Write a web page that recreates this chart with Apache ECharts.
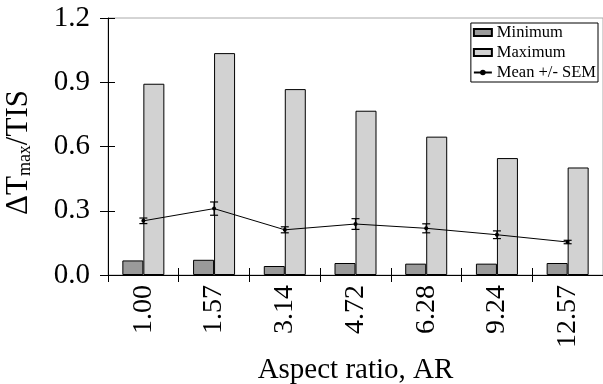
<!DOCTYPE html>
<html>
<head>
<meta charset="utf-8">
<script src="https://cdn.jsdelivr.net/npm/echarts@6/dist/echarts.min.js"></script>
<style>
html,body{margin:0;padding:0;background:#fff;}
#chart{width:603px;height:384px;}
</style>
</head>
<body>
<div id="chart"></div>
<script>
var categories = ['1.00', '1.57', '3.14', '4.72', '6.28', '9.24', '12.57'];
var minimum = [0.068, 0.071, 0.042, 0.056, 0.053, 0.053, 0.056];
var maximum = [0.893, 1.036, 0.868, 0.767, 0.646, 0.546, 0.502];
var meanVals = [0.253, 0.310, 0.211, 0.238, 0.218, 0.188, 0.154];
var semVals = [0.013, 0.031, 0.014, 0.025, 0.021, 0.018, 0.008];
var yTicks = [0.0, 0.3, 0.6, 0.9, 1.2];

var FONT = '"Liberation Serif", "Times New Roman", serif';

var errData = categories.map(function (c, i) {
  return [i, meanVals[i] - semVals[i], meanVals[i] + semVals[i]];
});

var chart = echarts.init(document.getElementById('chart'), null, {renderer: 'canvas'});
chart.setOption({
  animation: false,
  backgroundColor: '#fff',
  textStyle: {fontFamily: FONT, color: '#000'},
  grid: {left: 108, top: 18, right: 0, bottom: 109, containLabel: false, outerBoundsMode: 'none',
    show: true, borderColor: '#aaa', borderWidth: 1, backgroundColor: 'transparent'},
  legend: {
    data: [{name: 'Minimum', icon: 'rect'}, {name: 'Maximum', icon: 'rect'}, {name: 'Mean +/- SEM'}],
    orient: 'vertical',
    right: 5,
    top: 23,
    itemWidth: 18,
    itemHeight: 7,
    itemGap: 3,
    itemTextGap: 2,
    padding: [1, 2, 1, 2],
    borderColor: '#000',
    borderWidth: 1,
    borderRadius: 0,
    backgroundColor: '#fff',
    textStyle: {fontFamily: FONT, fontSize: 16.5, color: '#000'}
  },
  xAxis: [{
    type: 'category',
    data: categories,
    position: 'bottom',
    axisLine: {show: true, lineStyle: {color: '#000', width: 1}},
    axisTick: {show: true, alignWithLabel: false, length: 7, lineStyle: {color: '#000'}},
    axisLabel: {rotate: 90, fontSize: 28, fontFamily: FONT, color: '#000', margin: 10},
    name: 'Aspect ratio, AR',
    nameLocation: 'middle',
    nameGap: 71,
    nameTextStyle: {fontSize: 29, fontFamily: FONT, color: '#000'}
  }, {
    type: 'category',
    data: categories,
    position: 'bottom',
    axisLine: {show: false},
    axisTick: {show: true, inside: true, alignWithLabel: false, length: 7, lineStyle: {color: '#000'}},
    axisLabel: {show: false}
  }],
  yAxis: [{
    type: 'value',
    min: 0,
    max: 1.2,
    interval: 0.3,
    position: 'left',
    splitLine: {show: false},
    axisLine: {show: true, lineStyle: {color: '#000', width: 1}},
    axisTick: {show: true, length: 8, lineStyle: {color: '#000'}},
    axisLabel: {fontSize: 29, fontFamily: FONT, color: '#000', margin: 18,
      formatter: function (v) { return v.toFixed(1); }},
    name: '{a|ΔT}{s|max}{a|/TIS}',
    nameLocation: 'middle',
    nameRotate: 90,
    nameGap: 74,
    nameTextStyle: {
      padding: [0, 12, 0, 0],
      rich: {
        a: {fontSize: 31, fontFamily: FONT, color: '#000', lineHeight: 31, verticalAlign: 'middle'},
        s: {fontSize: 18, fontFamily: FONT, color: '#000', lineHeight: 18, padding: [19, 0, 0, 0], verticalAlign: 'bottom'}
      }
    }
  }, {
    type: 'value',
    min: 0,
    max: 1.2,
    interval: 0.3,
    position: 'left',
    splitLine: {show: false},
    axisLine: {show: false},
    axisTick: {show: true, inside: true, length: 7, lineStyle: {color: '#000'}},
    axisLabel: {show: false}
  }],
  series: [{
    name: 'Minimum',
    type: 'bar',
    data: minimum,
    barWidth: 21,
    barGap: '0%',
    itemStyle: {color: '#9a9a9a', borderColor: '#000', borderWidth: 1}
  }, {
    name: 'Maximum',
    type: 'bar',
    data: maximum,
    barWidth: 21,
    barGap: '0%',
    itemStyle: {color: '#d2d2d2', borderColor: '#000', borderWidth: 1}
  }, {
    name: 'Mean +/- SEM',
    type: 'line',
    data: meanVals,
    symbol: 'circle',
    symbolSize: 4,
    lineStyle: {color: '#000', width: 1},
    itemStyle: {color: '#000'},
    z: 5
  }, {
    name: 'SEM',
    type: 'custom',
    data: errData,
    z: 6,
    renderItem: function (params, api) {
      var x = api.value(0);
      var lo = api.coord([x, api.value(1)]);
      var hi = api.coord([x, api.value(2)]);
      var hw = 4;
      var st = {stroke: '#000', lineWidth: 1.2};
      return {
        type: 'group',
        children: [
          {type: 'line', shape: {x1: lo[0], y1: lo[1], x2: hi[0], y2: hi[1]}, style: st},
          {type: 'line', shape: {x1: lo[0] - hw, y1: lo[1], x2: lo[0] + hw, y2: lo[1]}, style: st},
          {type: 'line', shape: {x1: hi[0] - hw, y1: hi[1], x2: hi[0] + hw, y2: hi[1]}, style: st}
        ]
      };
    }
  }]
});
</script>
</body>
</html>
